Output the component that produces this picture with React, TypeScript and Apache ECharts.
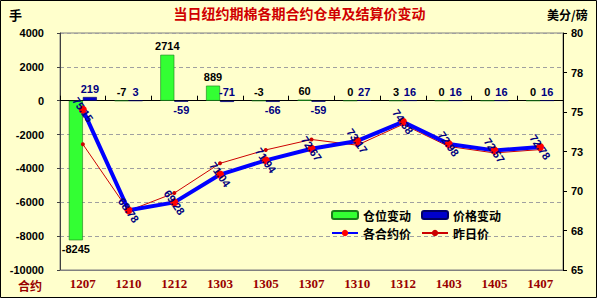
import React, { useEffect, useRef } from "react";
import * as echarts from "echarts";

const categories = ["1207", "1210", "1212", "1303", "1305", "1307", "1310", "1312", "1403", "1405", "1407"];
const positionChange = [-8245, -7, 2714, 889, -3, 60, 0, 3, 0, 0, 0];
const priceChange = [219, 3, -59, -71, -66, -59, 27, 16, 16, 16, 16];
const settlePrice = [75.15, 68.78, 69.28, 71.04, 71.94, 72.67, 73.17, 74.38, 72.98, 72.57, 72.78];
const prevPrice = [72.96, 68.75, 69.87, 71.75, 72.6, 73.26, 72.9, 74.22, 72.82, 72.41, 72.62];
const leftTicks = { min: -10000, max: 4000, interval: 2000 };
const rightTicks = { min: 65, max: 80, interval: 2.5 };

const TITLE = "当日纽约期棉各期合约仓单及结算价变动";
const CJK = "'Noto Sans CJK SC', sans-serif";
const SANS = "'Liberation Sans', Arial, sans-serif";
const SERIF = "'Liberation Serif', 'Times New Roman', serif";
// label placement style (blue bar labels that sit above the zero line)
const blueLabelAbove = ["1303"];

export default function App() {
  const ref = useRef<HTMLDivElement>(null);
  useEffect(() => {
    if (!ref.current) return;
    const chart = echarts.init(ref.current, undefined, { renderer: "svg" });
    const barLabel = { fontFamily: SANS, fontWeight: "bold", fontSize: 11, distance: 3 };
    chart.setOption({
      animation: false,
      backgroundColor: "#ffffff",
      graphic: [
        {
          type: "rect",
          z: -10,
          shape: { x: 0.5, y: 0.5, width: 596, height: 297 },
          style: { fill: "#ffffcc", stroke: "#000000", lineWidth: 1 },
        },
        {
          type: "text",
          left: "center",
          top: 6,
          style: { text: TITLE, fill: "#d00000", font: `bold 14px ${CJK}` },
        },
        { type: "text", x: 9, y: 8, style: { text: "手", fill: "#000", font: `bold 13px ${CJK}` } },
        { type: "text", x: 547, y: 8, style: { text: "美分/磅", fill: "#000", font: `bold 12px ${CJK}` } },
        { type: "text", x: 18, y: 279, style: { text: "合约", fill: "#990000", font: `bold 12px ${CJK}` } },
      ],
      grid: {
        left: 60,
        right: 36,
        top: 33,
        bottom: 30,
        show: true,
        borderColor: "#808080",
        borderWidth: 1,
        backgroundColor: "#ffffcc",
      },
      legend: [
        {
          left: 331,
          top: 209,
          itemWidth: 26,
          itemHeight: 8,
          itemGap: 10,
          padding: 0,
          textStyle: { fontFamily: CJK, fontWeight: "bold", fontSize: 12, color: "#000" },
          data: ["仓位变动", "价格变动"],
        },
        {
          left: 331,
          top: 227,
          itemWidth: 26,
          itemHeight: 8,
          itemGap: 10,
          padding: 0,
          textStyle: { fontFamily: CJK, fontWeight: "bold", fontSize: 12, color: "#000" },
          data: ["各合约价", "昨日价"],
        },
      ],
      xAxis: [
        {
          type: "category",
          data: categories,
          position: "top",
          boundaryGap: true,
          axisLine: { onZero: true, onZeroAxisIndex: 0, lineStyle: { color: "#000", width: 1 } },
          axisTick: { show: true, length: 5, lineStyle: { color: "#000" } },
          axisLabel: { show: false },
          splitLine: { show: false },
        },
        {
          type: "category",
          data: categories,
          position: "bottom",
          boundaryGap: true,
          axisLine: { onZero: false, lineStyle: { color: "#808080" } },
          axisTick: { show: false },
          axisLabel: {
            margin: 7,
            color: "#990000",
            fontFamily: SERIF,
            fontWeight: "bold",
            fontSize: 13,
          },
          splitLine: { show: false },
        },
      ],
      yAxis: [
        {
          type: "value",
          min: leftTicks.min,
          max: leftTicks.max,
          interval: leftTicks.interval,
          axisLine: { show: true, lineStyle: { color: "#404040" } },
          axisTick: { show: true, length: 3, lineStyle: { color: "#404040" } },
          axisLabel: {
            formatter: (v: number) => String(v),
            color: "#000",
            fontFamily: SANS,
            fontWeight: "bold",
            fontSize: 11,
            margin: 16,
          },
          splitLine: { show: true, lineStyle: { color: "#a0a0a0", type: [4, 3] } },
        },
        {
          type: "value",
          min: rightTicks.min,
          max: rightTicks.max,
          interval: rightTicks.interval,
          position: "right",
          axisLine: { show: true, lineStyle: { color: "#000" } },
          axisTick: { show: true, length: 4, lineStyle: { color: "#000" } },
          axisLabel: {
            formatter: (v: number) => String(Math.round(v)),
            color: "#000",
            fontFamily: SANS,
            fontWeight: "bold",
            fontSize: 11,
            margin: 8,
          },
          splitLine: { show: false },
        },
      ],
      series: [
        {
          name: "仓位变动",
          type: "bar",
          xAxisIndex: 0,
          yAxisIndex: 0,
          barWidth: 14,
          barGap: "0%",
          itemStyle: { color: "#33ff33", borderColor: "#1a7a1a", borderWidth: 0.6 },
          data: positionChange.map((v) => ({
            value: v,
            label: {
              show: true,
              position: v < -100 ? "bottom" : "top",
              color: "#000",
              ...barLabel,
            },
          })),
        },
        {
          name: "价格变动",
          type: "bar",
          xAxisIndex: 0,
          yAxisIndex: 0,
          barWidth: 14,
          barGap: "0%",
          itemStyle: { color: "#0000cc", borderColor: "#000066", borderWidth: 0.6 },
          data: priceChange.map((v, i) => ({
            value: v,
            label: {
              show: true,
              position: v >= 0 || blueLabelAbove.includes(categories[i]) ? "top" : "bottom",
              color: "#000080",
              ...barLabel,
            },
          })),
        },
        {
          name: "昨日价",
          type: "line",
          xAxisIndex: 0,
          yAxisIndex: 1,
          data: prevPrice,
          symbol: "circle",
          symbolSize: 4,
          lineStyle: { color: "#cc0000", width: 1 },
          itemStyle: { color: "#cc0000" },
          z: 3,
        },
        {
          name: "各合约价",
          type: "line",
          xAxisIndex: 0,
          yAxisIndex: 1,
          data: settlePrice,
          symbol: "circle",
          symbolSize: 8,
          lineStyle: { color: "#0000ff", width: 4 },
          itemStyle: { color: "#ff0000" },
          z: 4,
          label: {
            show: true,
            position: "inside",
            rotate: -55,
            formatter: (p: any) => Number(p.value).toFixed(2),
            color: "#000080",
            fontFamily: SANS,
            fontWeight: "bold",
            fontSize: 11,
          },
        },
      ],
    });
    return () => chart.dispose();
  }, []);
  return (
    <div style={{ position: "fixed", left: 0, top: 0, width: 599, height: 300, background: "#fff" }}>
      <div ref={ref} style={{ width: 599, height: 300 }} />
    </div>
  );
}
